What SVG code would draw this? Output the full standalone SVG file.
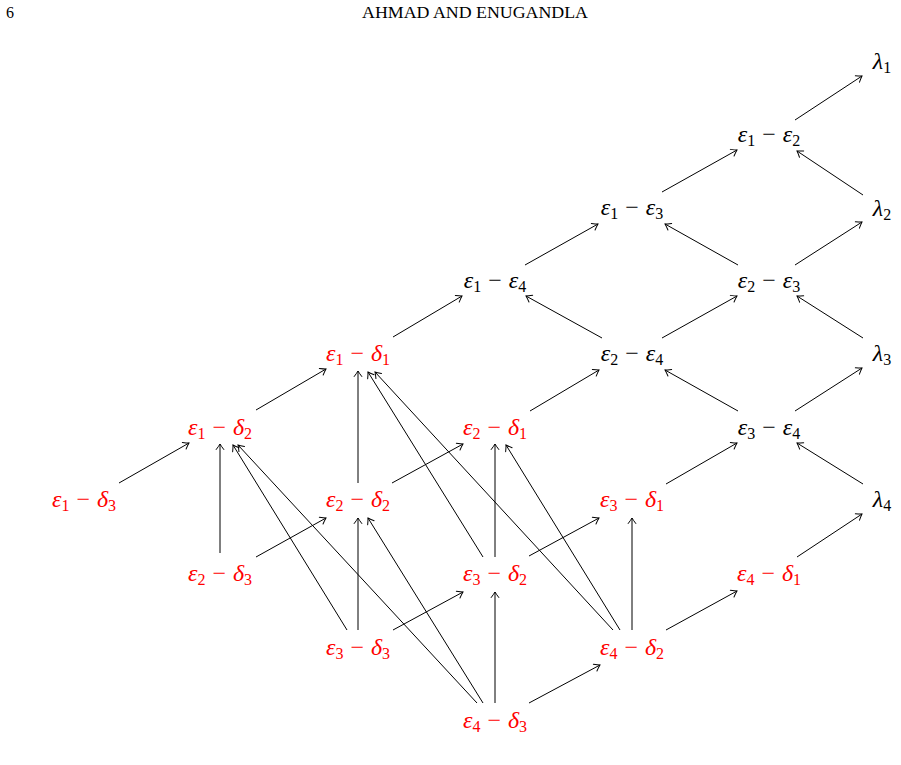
<svg xmlns="http://www.w3.org/2000/svg" width="901" height="765" viewBox="0 0 901 765">
<defs>
<marker id="ah" markerUnits="userSpaceOnUse" markerWidth="12" markerHeight="12" viewBox="-7 -6 9 12" refX="0" refY="0" orient="auto">
<path d="M-5.5,-3.8 Q-1.8,-1 0,0 Q-1.8,1 -5.5,3.8" fill="none" stroke="#000" stroke-width="1" stroke-linecap="round"/>
</marker>
</defs>
<style>
.hd{font-family:"Liberation Serif",serif;font-size:16px;fill:#000}
.n{font-family:"Liberation Serif",serif;font-size:24px;text-anchor:middle}
.r{fill:#ff0000}
.b{fill:#000}
.i{font-style:italic}
.s{font-size:16px}
.e line{stroke:#000;stroke-width:1;fill:none;marker-end:url(#ah)}
</style>
<text class="hd" x="6" y="18">6</text>
<text class="hd" x="362" y="18" textLength="226" lengthAdjust="spacingAndGlyphs">AHMAD AND ENUGANDLA</text>
<g class="e" id="connectors">
<line x1="795" y1="120" x2="862" y2="76"/>
<line x1="662" y1="192" x2="737" y2="150"/>
<line x1="863" y1="195" x2="797" y2="151"/>
<line x1="795" y1="265" x2="862" y2="222"/>
<line x1="738" y1="265" x2="665" y2="224"/>
<line x1="525" y1="265" x2="598" y2="224"/>
<line x1="602" y1="338" x2="526" y2="296"/>
<line x1="662" y1="338" x2="737" y2="296"/>
<line x1="863" y1="338" x2="797" y2="296"/>
<line x1="795" y1="411" x2="862" y2="368"/>
<line x1="738" y1="411" x2="665" y2="370"/>
<line x1="863" y1="484" x2="797" y2="443"/>
<line x1="797" y1="557" x2="862" y2="514"/>
<line x1="393" y1="337" x2="462" y2="296"/>
<line x1="530" y1="411" x2="599" y2="370"/>
<line x1="666" y1="484" x2="737" y2="443"/>
<line x1="119" y1="483" x2="189" y2="443"/>
<line x1="256" y1="410" x2="326" y2="369"/>
<line x1="220" y1="553" x2="220" y2="444"/>
<line x1="256" y1="557" x2="326" y2="518"/>
<line x1="347" y1="630" x2="233" y2="445"/>
<line x1="477" y1="703" x2="238" y2="445"/>
<line x1="358" y1="630" x2="358" y2="518"/>
<line x1="393" y1="630" x2="463" y2="592"/>
<line x1="358" y1="483" x2="358" y2="371"/>
<line x1="392" y1="483" x2="463" y2="444"/>
<line x1="483" y1="557" x2="368" y2="372"/>
<line x1="613" y1="630" x2="375" y2="372"/>
<line x1="495" y1="557" x2="495" y2="444"/>
<line x1="529" y1="556" x2="599" y2="518"/>
<line x1="620" y1="630" x2="506" y2="445"/>
<line x1="632" y1="630" x2="632" y2="518"/>
<line x1="666" y1="630" x2="737" y2="591"/>
<line x1="483" y1="703" x2="368" y2="518"/>
<line x1="495" y1="703" x2="495" y2="592"/>
<line x1="529" y1="703" x2="600" y2="665"/>
</g>
<g id="l1"><text class="n b" x="882" y="69"><tspan class="i">λ</tspan><tspan class="s" dy="4">1</tspan></text></g>
<g id="l2"><text class="n b" x="882" y="216"><tspan class="i">λ</tspan><tspan class="s" dy="4">2</tspan></text></g>
<g id="l3"><text class="n b" x="882" y="361"><tspan class="i">λ</tspan><tspan class="s" dy="4">3</tspan></text></g>
<g id="l4"><text class="n b" x="882" y="507"><tspan class="i">λ</tspan><tspan class="s" dy="4">4</tspan></text></g>
<g id="e1e2"><text class="n b" x="769" y="142"><tspan class="i">ε</tspan><tspan class="s" dy="4">1</tspan><tspan dx="7" dy="-4">−</tspan><tspan class="i" dx="7">ε</tspan><tspan class="s" dy="4">2</tspan></text></g>
<g id="e1e3"><text class="n b" x="632" y="215"><tspan class="i">ε</tspan><tspan class="s" dy="4">1</tspan><tspan dx="7" dy="-4">−</tspan><tspan class="i" dx="7">ε</tspan><tspan class="s" dy="4">3</tspan></text></g>
<g id="e2e3"><text class="n b" x="769" y="288"><tspan class="i">ε</tspan><tspan class="s" dy="4">2</tspan><tspan dx="7" dy="-4">−</tspan><tspan class="i" dx="7">ε</tspan><tspan class="s" dy="4">3</tspan></text></g>
<g id="e1e4"><text class="n b" x="495" y="288"><tspan class="i">ε</tspan><tspan class="s" dy="4">1</tspan><tspan dx="7" dy="-4">−</tspan><tspan class="i" dx="7">ε</tspan><tspan class="s" dy="4">4</tspan></text></g>
<g id="e2e4"><text class="n b" x="632" y="361"><tspan class="i">ε</tspan><tspan class="s" dy="4">2</tspan><tspan dx="7" dy="-4">−</tspan><tspan class="i" dx="7">ε</tspan><tspan class="s" dy="4">4</tspan></text></g>
<g id="e3e4"><text class="n b" x="769" y="435"><tspan class="i">ε</tspan><tspan class="s" dy="4">3</tspan><tspan dx="7" dy="-4">−</tspan><tspan class="i" dx="7">ε</tspan><tspan class="s" dy="4">4</tspan></text></g>
<g id="e1d1"><text class="n r" x="358" y="361"><tspan class="i">ε</tspan><tspan class="s" dy="4">1</tspan><tspan dx="7" dy="-4">−</tspan><tspan class="i" dx="7">δ</tspan><tspan class="s" dy="4">1</tspan></text></g>
<g id="e1d2"><text class="n r" x="220" y="435"><tspan class="i">ε</tspan><tspan class="s" dy="4">1</tspan><tspan dx="7" dy="-4">−</tspan><tspan class="i" dx="7">δ</tspan><tspan class="s" dy="4">2</tspan></text></g>
<g id="e2d1"><text class="n r" x="495" y="435"><tspan class="i">ε</tspan><tspan class="s" dy="4">2</tspan><tspan dx="7" dy="-4">−</tspan><tspan class="i" dx="7">δ</tspan><tspan class="s" dy="4">1</tspan></text></g>
<g id="e1d3"><text class="n r" x="84" y="507"><tspan class="i">ε</tspan><tspan class="s" dy="4">1</tspan><tspan dx="7" dy="-4">−</tspan><tspan class="i" dx="7">δ</tspan><tspan class="s" dy="4">3</tspan></text></g>
<g id="e2d2"><text class="n r" x="358" y="507"><tspan class="i">ε</tspan><tspan class="s" dy="4">2</tspan><tspan dx="7" dy="-4">−</tspan><tspan class="i" dx="7">δ</tspan><tspan class="s" dy="4">2</tspan></text></g>
<g id="e3d1"><text class="n r" x="632" y="507"><tspan class="i">ε</tspan><tspan class="s" dy="4">3</tspan><tspan dx="7" dy="-4">−</tspan><tspan class="i" dx="7">δ</tspan><tspan class="s" dy="4">1</tspan></text></g>
<g id="e2d3"><text class="n r" x="220" y="581"><tspan class="i">ε</tspan><tspan class="s" dy="4">2</tspan><tspan dx="7" dy="-4">−</tspan><tspan class="i" dx="7">δ</tspan><tspan class="s" dy="4">3</tspan></text></g>
<g id="e3d2"><text class="n r" x="495" y="581"><tspan class="i">ε</tspan><tspan class="s" dy="4">3</tspan><tspan dx="7" dy="-4">−</tspan><tspan class="i" dx="7">δ</tspan><tspan class="s" dy="4">2</tspan></text></g>
<g id="e4d1"><text class="n r" x="769" y="581"><tspan class="i">ε</tspan><tspan class="s" dy="4">4</tspan><tspan dx="7" dy="-4">−</tspan><tspan class="i" dx="7">δ</tspan><tspan class="s" dy="4">1</tspan></text></g>
<g id="e3d3"><text class="n r" x="358" y="655"><tspan class="i">ε</tspan><tspan class="s" dy="4">3</tspan><tspan dx="7" dy="-4">−</tspan><tspan class="i" dx="7">δ</tspan><tspan class="s" dy="4">3</tspan></text></g>
<g id="e4d2"><text class="n r" x="632" y="655"><tspan class="i">ε</tspan><tspan class="s" dy="4">4</tspan><tspan dx="7" dy="-4">−</tspan><tspan class="i" dx="7">δ</tspan><tspan class="s" dy="4">2</tspan></text></g>
<g id="e4d3"><text class="n r" x="495" y="728"><tspan class="i">ε</tspan><tspan class="s" dy="4">4</tspan><tspan dx="7" dy="-4">−</tspan><tspan class="i" dx="7">δ</tspan><tspan class="s" dy="4">3</tspan></text></g>
</svg>
